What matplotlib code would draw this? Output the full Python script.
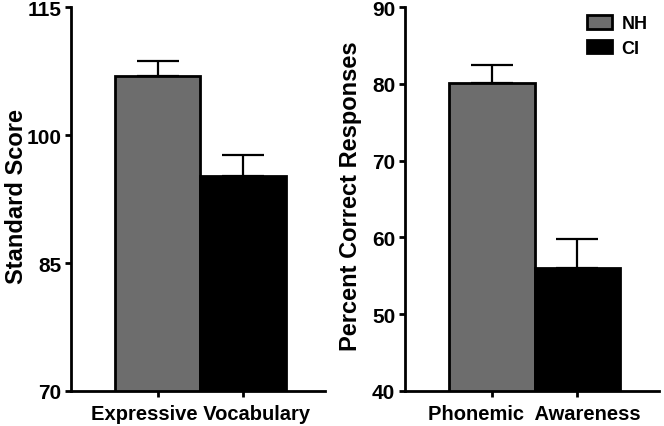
import matplotlib
matplotlib.use("Agg")
import matplotlib.pyplot as plt
from matplotlib.patches import Patch
from matplotlib.transforms import blended_transform_factory

plt.rcParams['font.family'] = ['Liberation Sans', 'DejaVu Sans']
plt.rcParams['font.weight'] = 'bold'

groups = ["NH", "CI"]
colors = ["#6d6d6d", "#000000"]

vocab_labels = "Expressive Vocabulary"
vocab_means = [106.9, 95.2]
vocab_err = [1.8, 2.5]
vocab_ticks = [70, 85, 100, 115]

pa_label = "Phonemic  Awareness"
pa_means = [80.1, 56.0]
pa_err = [2.3, 3.8]
pa_ticks = [40, 50, 60, 70, 80, 90]

fig = plt.figure(figsize=(6.64, 4.27), dpi=100)
ax1 = fig.add_axes([0.107, 0.082, 0.382, 0.899])
ax2 = fig.add_axes([0.610, 0.082, 0.3825, 0.899])

def panel(ax, means, errs, ticks, ylabel, xlabel, ylab_x):
    x = list(range(len(means)))
    ax.bar(x, means, width=1.0, color=colors, edgecolor='black', linewidth=2.0, zorder=2)
    ax.errorbar(x, means, yerr=[[0]*len(errs), errs], fmt='none', ecolor='black',
                elinewidth=1.6, capsize=15, capthick=1.6, zorder=1)
    ax.set_ylim(ticks[0], ticks[-1])
    ax.set_yticks(ticks)
    ax.set_xlim(-1.02, 1.96)
    ax.set_xticks(x)
    ax.set_xticklabels([])
    for s in ['top', 'right']:
        ax.spines[s].set_visible(False)
    for s in ['left', 'bottom']:
        ax.spines[s].set_linewidth(2.0)
    ax.tick_params(axis='both', direction='out', length=4, width=2.0, labelsize=15, pad=3)
    for lab in ax.get_yticklabels():
        lab.set_fontweight('bold')
    ax.set_ylabel(ylabel, fontsize=17, fontweight='bold')
    ax.yaxis.set_label_coords(ylab_x, 0.51)
    tr = blended_transform_factory(ax.transData, ax.transAxes)
    ax.text(0.5, -0.035, xlabel, transform=tr, ha='center', va='top',
            fontsize=14.5, fontweight='bold')

panel(ax1, vocab_means, vocab_err, vocab_ticks, "Standard Score", vocab_labels, -0.17)
panel(ax2, pa_means, pa_err, pa_ticks, "Percent Correct Responses", pa_label, -0.17)

handles = [Patch(facecolor=c, edgecolor='black', linewidth=2.0) for c in colors]
leg = ax2.legend(handles, groups, loc='upper left', bbox_to_anchor=(0.884, 0.962),
                 bbox_transform=fig.transFigure, frameon=False, borderpad=0, borderaxespad=0,
                 prop={'weight': 'bold', 'size': 13}, handlelength=1.4, handleheight=0.8,
                 handletextpad=0.5, labelspacing=0.4)

fig.savefig("out.png", dpi=100)
